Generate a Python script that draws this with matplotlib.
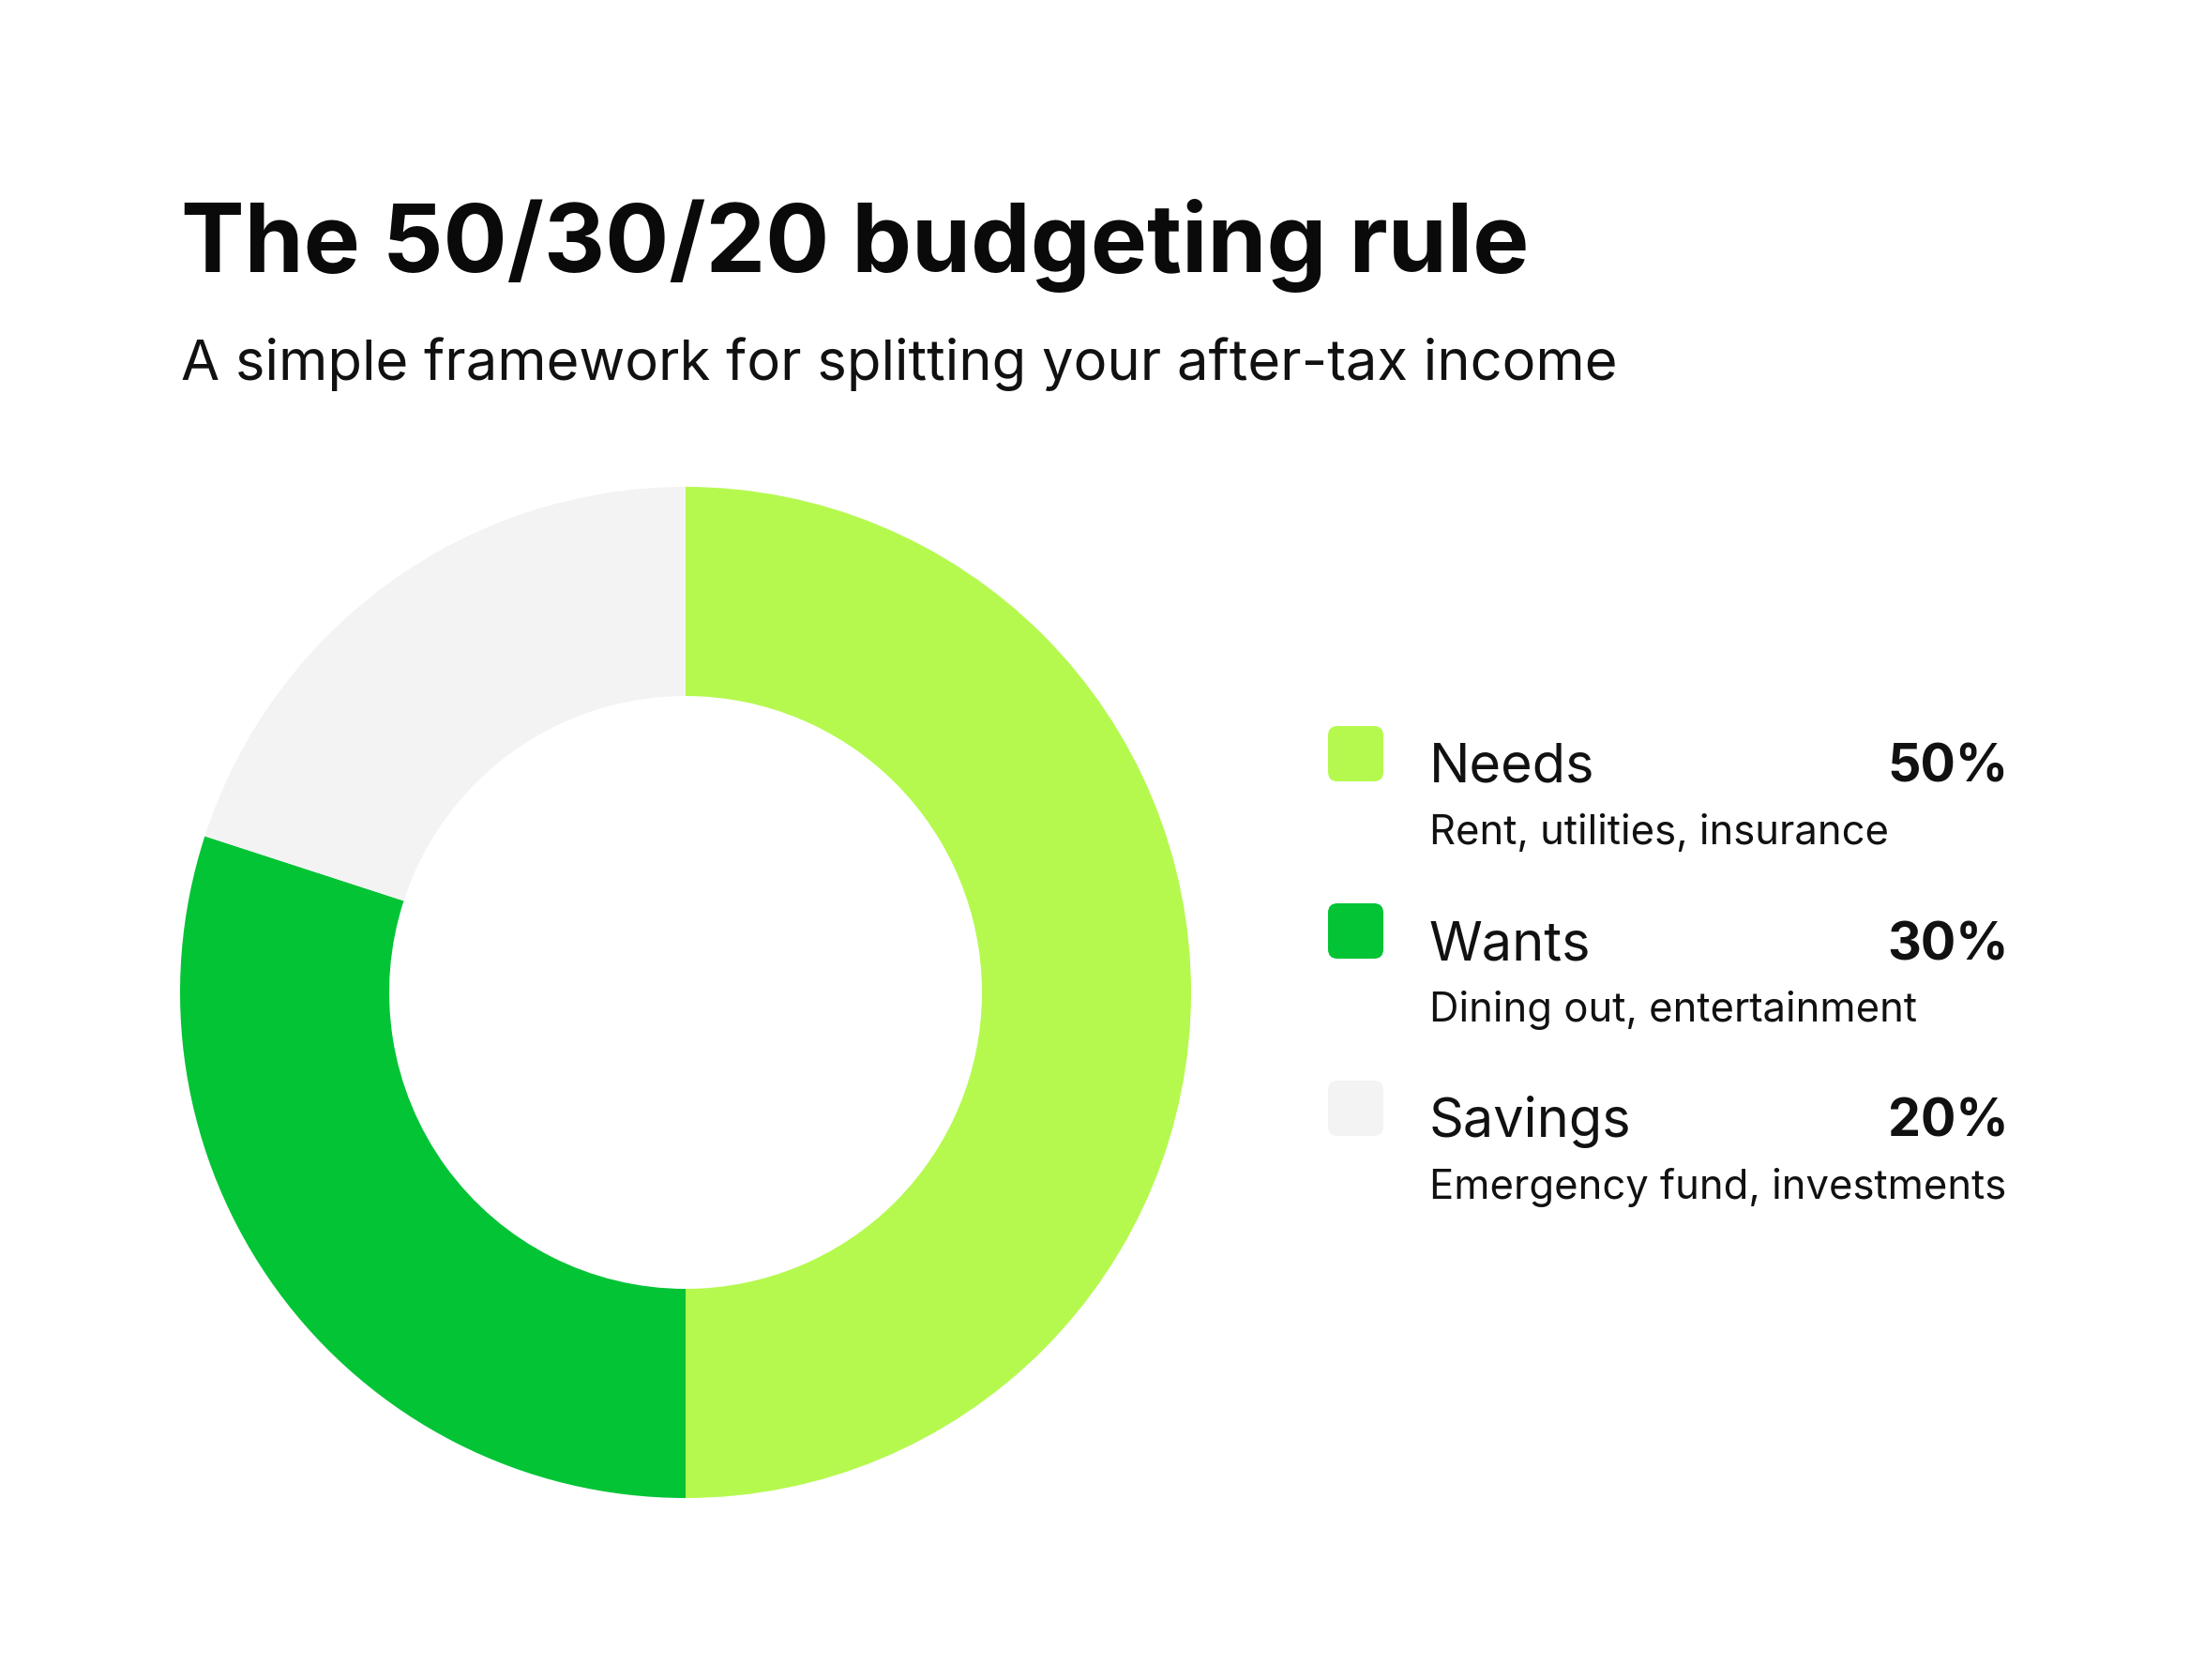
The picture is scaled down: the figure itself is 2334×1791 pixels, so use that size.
import matplotlib.pyplot as plt
from matplotlib.patches import FancyBboxPatch

# data
categories = ["Needs", "Wants", "Savings"]
shares = [50, 30, 20]
descriptions = ["Rent, utilities, insurance", "Dining out, entertainment",
                "Emergency fund, investments"]
colors = ["#B5F94F", "#02C435", "#F3F3F3"]

W, H = 2334, 1791
plt.rcParams['font.family'] = ['Inter', 'DejaVu Sans']

fig = plt.figure(figsize=(W / 100, H / 100), dpi=100)
ax = fig.add_axes([0, 0, 1, 1])

# donut
cx, cy, r_out, r_in = 731, H - 1058, 539, 316
ax.pie(shares, colors=colors, startangle=90, counterclock=False,
       center=(cx, cy), radius=r_out,
       wedgeprops=dict(width=r_out - r_in, linewidth=0))

ax.set_xlim(0, W)
ax.set_ylim(0, H)
ax.set_aspect('equal')
ax.axis('off')

# title / subtitle
ax.text(193, H - 290, "The 50/30/20 budgeting rule", fontsize=72.8,
        fontweight='bold', ha='left', va='baseline', color='#0a0a0a')
ax.text(193, H - 405, "A simple framework for splitting your after-tax income",
        fontsize=43, ha='left', va='baseline', color='#111111')

# legend
sq_x, sq_size = 1416, 59
row_top = 774
row_gap = 189
for i, (cat, val, desc, c) in enumerate(zip(categories, shares, descriptions, colors)):
    top = row_top + i * row_gap
    ax.add_patch(FancyBboxPatch((sq_x, H - top - sq_size), sq_size, sq_size,
                                boxstyle="round,pad=0,rounding_size=10",
                                fc=c, ec='none'))
    ax.text(1524, H - (top + 60), cat, fontsize=41.5, ha='left',
            va='baseline', color='#111111')
    ax.text(2142, H - (top + 60), f"{val}%", fontsize=40, fontweight='bold',
            ha='right', va='baseline', color='#111111')
    ax.text(1524, H - (top + 126), desc, fontsize=31.4, ha='left',
            va='baseline', color='#111111')

fig.savefig("out.png", dpi=100, facecolor='white')
